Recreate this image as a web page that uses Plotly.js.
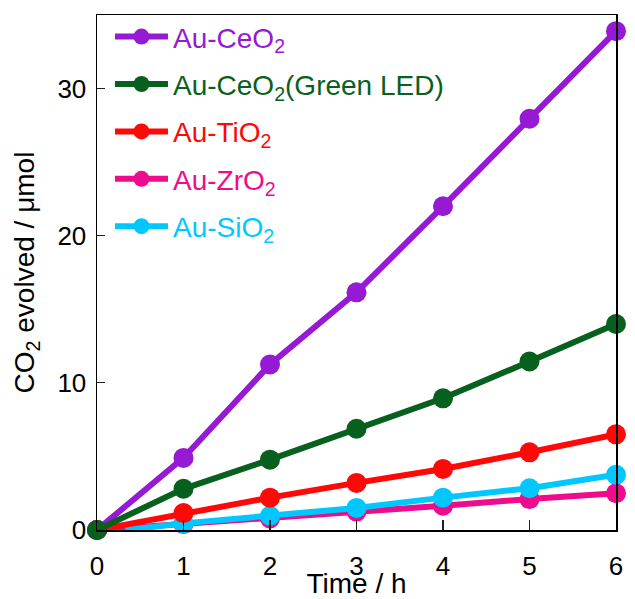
<!DOCTYPE html>
<html>
<head>
<meta charset="utf-8">
<script src="https://cdn.plot.ly/plotly-3.0.1.min.js"></script>
<style>html,body{margin:0;padding:0;background:#fff;}#chart{width:635px;height:599px;}</style>
</head>
<body>
<div id="chart"></div>
<script>
const hours = [0, 1, 2, 3, 4, 5, 6];
const ceo2 = [0, 4.9, 11.25, 16.15, 22.0, 27.95, 33.9];
const ceo2Green = [0, 2.8, 4.78, 6.88, 8.95, 11.45, 14.0];
const tio2 = [0, 1.15, 2.2, 3.2, 4.15, 5.28, 6.5];
const zro2 = [0, 0.4, 0.78, 1.25, 1.65, 2.1, 2.5];
const sio2Hours = [1, 2, 3, 4, 5, 6];
const sio2 = [0.45, 0.97, 1.5, 2.2, 2.84, 3.75];
const sio2LeadHours = [0.33, 1];
const sio2Lead = [0, 0.45];

const names = ['Au-CeO<sub>2</sub>', 'Au-CeO<sub>2</sub>(Green LED)', 'Au-TiO<sub>2</sub>', 'Au-ZrO<sub>2</sub>', 'Au-SiO<sub>2</sub>'];
const colors = ['#9619D4', '#08601E', '#FF0808', '#EE0C8C', '#00C8FF'];

function tr(x, y, i) {
  return {
    x: x, y: y, type: 'scatter', mode: 'lines+markers',
    name: '<span style="color:' + colors[i] + '">' + names[i] + '</span>',
    legendrank: i + 1,
    legendgroup: 'g' + i,
    line: {color: colors[i], width: 6},
    marker: {color: colors[i], size: 20},
    cliponaxis: false
  };
}
const data = [
  tr(hours, zro2, 3),
  {x: sio2LeadHours, y: sio2Lead, type: 'scatter', mode: 'lines', showlegend: false,
   legendgroup: 'g4', line: {color: colors[4], width: 6}, cliponaxis: false},
  tr(sio2Hours, sio2, 4),
  tr(hours, tio2, 2),
  tr(hours, ceo2, 0),
  tr(hours, ceo2Green, 1)
];

const layout = {
  width: 635, height: 599,
  margin: {l: 97, r: 19, t: 12, b: 69},
  paper_bgcolor: '#fff', plot_bgcolor: '#fff',
  font: {family: 'Liberation Sans, Arial, sans-serif', size: 26, color: '#000'},
  showlegend: true,
  legend: {x: 0.025, y: 1.006, xanchor: 'left', yanchor: 'top', bgcolor: 'rgba(0,0,0,0)',
           font: {size: 28}, itemwidth: 53, itemsizing: 'trace', tracegroupgap: 8},
  xaxis: {
    range: [0, 6], tickvals: [0, 1, 2, 3, 4, 5, 6], ticks: 'inside', ticklen: 10, tickwidth: 1.2,
    tickcolor: '#222', showline: true, linecolor: '#000', linewidth: 1.5, mirror: true,
    showgrid: false, zeroline: false, ticklabelstandoff: 12,
    tickfont: {size: 26},
    title: {text: 'Time / h', standoff: 0, font: {size: 28}}
  },
  yaxis: {
    range: [0, 35], tickvals: [0, 10, 20, 30], ticks: 'inside', ticklen: 8, tickwidth: 1.2,
    tickcolor: '#222', showline: true, linecolor: '#000', linewidth: 1.5, mirror: true,
    showgrid: false, zeroline: false, ticklabelstandoff: 4,
    tickfont: {size: 26},
    title: {text: 'CO<sub>2</sub> evolved / μmol', standoff: 14, font: {size: 28}}
  }
};
Plotly.newPlot('chart', data, layout, {displayModeBar: false, staticPlot: true});
</script>
</body>
</html>
